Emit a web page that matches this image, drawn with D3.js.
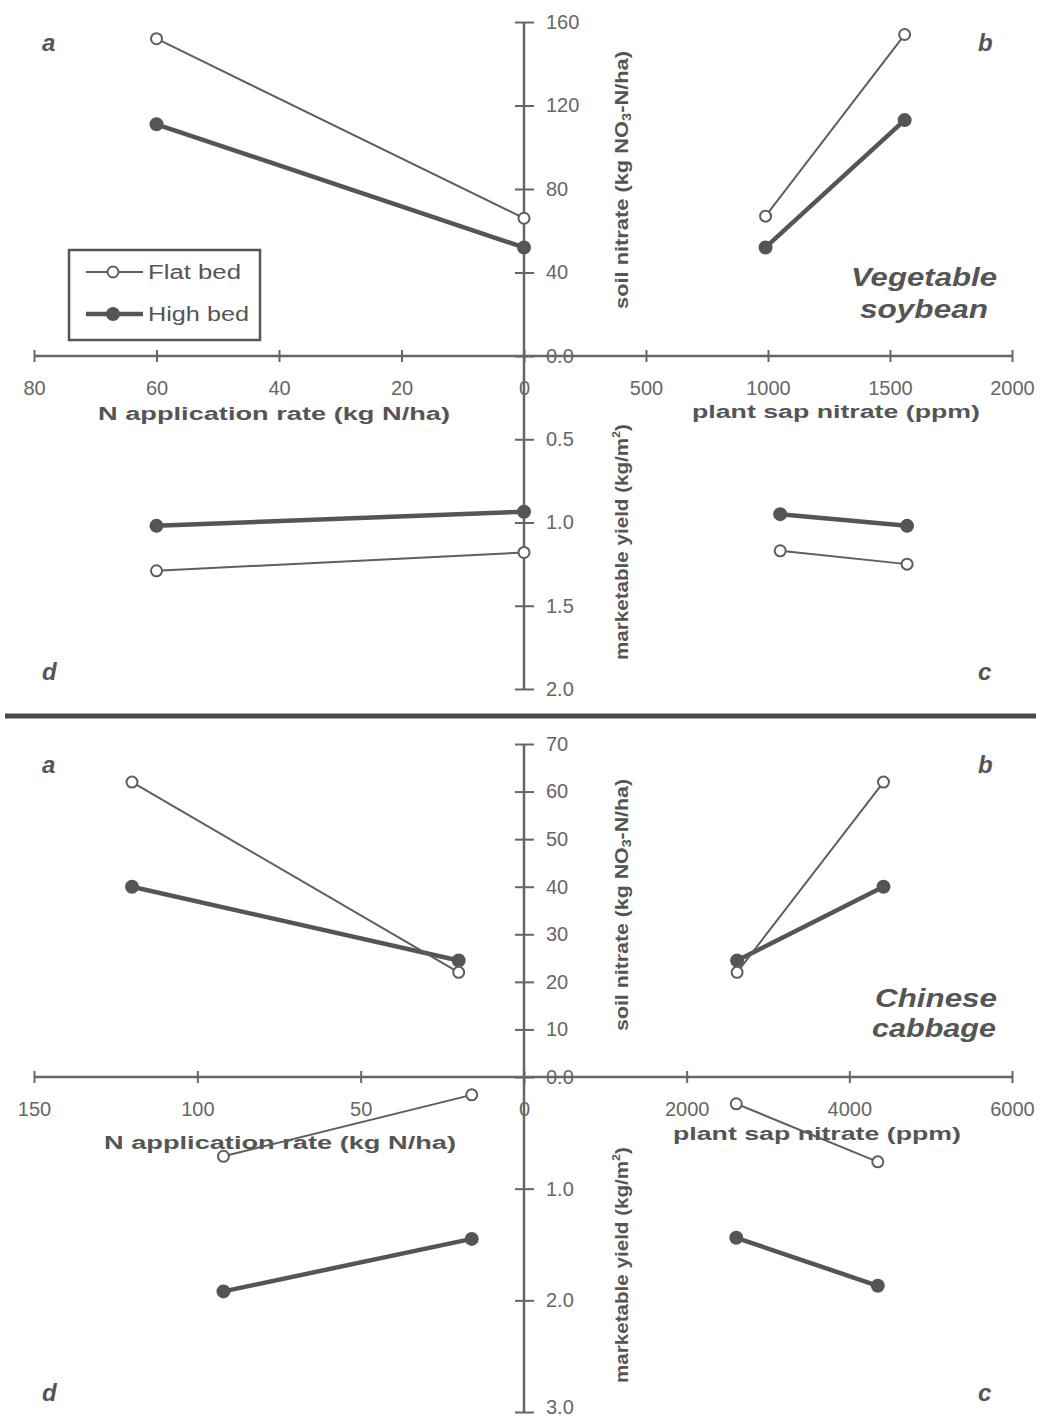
<!DOCTYPE html>
<html><head><meta charset="utf-8">
<script src="https://cdn.jsdelivr.net/npm/d3@7"></script>
<style>body{margin:0;background:#fff}svg{display:block}</style>
</head><body>
<script>
// ---------------- DATA ----------------
// Vegetable soybean (top)
const soyRateTicks = [80, 60, 40, 20, 0];
const soySapTicks = [500, 1000, 1500, 2000];
const soySoilTicks = [0, 40, 80, 120, 160];
const soyYieldTicks = [0.5, 1.0, 1.5, 2.0];
const soyA_rate = [60, 0];      const soyA_flat = [152, 66];     const soyA_high = [111, 52];
const soyB_sap = [990, 1560];   const soyB_flat = [67, 154];     const soyB_high = [52, 113];
const soyD_rate = [60, 0];      const soyD_flat = [1.29, 1.18];  const soyD_high = [1.02, 0.935];
const soyC_sap = [1050, 1570];  const soyC_flat = [1.17, 1.25];  const soyC_high = [0.95, 1.02];
// Chinese cabbage (bottom)
const cabRateTicks = [150, 100, 50, 0];
const cabSapTicks = [2000, 4000, 6000];
const cabSoilTicks = [0, 10, 20, 30, 40, 50, 60, 70];
const cabYieldTicks = [1.0, 2.0, 3.0];
const cabA_rate = [120, 20];    const cabA_flat = [62, 22];      const cabA_high = [40, 24.5];
const cabB_sap = [2620, 4420];  const cabB_flat = [22, 62];      const cabB_high = [24.5, 40];
const cabD_rate = [92, 16];     const cabD_flat = [0.71, 0.16];  const cabD_high = [1.92, 1.45];
const cabC_sap = [2610, 4350];  const cabC_flat = [0.24, 0.76];  const cabC_high = [1.44, 1.87];
const seriesNames = ["Flat bed", "High bed"];

// ---------------- DRAW ----------------
const W = 1043, H = 1419;
const F = "'Liberation Sans', Arial, Helvetica, sans-serif";
const LINE = "#555", THIN = "#5e5e5e", TXT = "#666", AX = "#666";
const svg = d3.select("body").append("svg").attr("width", W).attr("height", H)
  .style("font-family", F);
svg.append("rect").attr("width", W).attr("height", H).attr("fill", "#fff");

const X0 = 524, XL = 34, XR = 1012;

function txt(g, x, y, s, o) {
  const t = g.append("text").attr("x", x).attr("y", y).text(s)
    .attr("font-family", F).attr("fill", o.fill || "#555")
    .attr("font-size", o.size).attr("font-weight", o.weight || "normal")
    .attr("font-style", o.style || "normal")
    .attr("text-anchor", o.anchor || "middle");
  if (o.len) t.attr("textLength", o.len).attr("lengthAdjust", "spacingAndGlyphs");
  return t;
}

function panel(o) {
  const xL = d3.scaleLinear().domain([o.rateMax, 0]).range([XL, X0]);
  const xR = d3.scaleLinear().domain([0, o.sapMax]).range([X0, XR]);
  const yS = d3.scaleLinear().domain([0, o.soilMax]).range([o.axisY, o.soilTop]);
  const yY = d3.scaleLinear().domain([0, o.yieldMax]).range([o.axisY, o.yieldBot]);
  const g = svg.append("g");

  // axis titles
  txt(g, o.rateTitle[0], o.rateTitle[1], "N application rate (kg N/ha)", {size: 18, weight: "bold", len: 352});
  txt(g, o.sapTitle[0], o.sapTitle[1], "plant sap nitrate (ppm)", {size: 18, weight: "bold", len: 288});
  // vertical titles
  const t1 = g.append("text").attr("transform", `translate(${o.vtx},${o.soilTitleY}) rotate(-90)`)
    .attr("text-anchor", "middle").attr("dominant-baseline", "central")
    .attr("font-size", 18).attr("font-weight", "bold").attr("fill", "#555")
    .attr("textLength", o.soilTitleLen).attr("lengthAdjust", "spacingAndGlyphs");
  t1.append("tspan").text("soil nitrate (kg NO");
  t1.append("tspan").text("3").attr("font-size", 12).attr("dy", 5);
  t1.append("tspan").text("-N/ha)").attr("dy", -5);
  const t2 = g.append("text").attr("transform", `translate(${o.vtx},${o.yieldTitleY}) rotate(-90)`)
    .attr("text-anchor", "middle").attr("dominant-baseline", "central")
    .attr("font-size", 18).attr("font-weight", "bold").attr("fill", "#555")
    .attr("textLength", 236).attr("lengthAdjust", "spacingAndGlyphs");
  t2.append("tspan").text("marketable yield (kg/m");
  t2.append("tspan").text("2").attr("font-size", 11).attr("dy", -6);
  t2.append("tspan").text(")").attr("dy", 6);

  // horizontal axes
  const styleX = a => {
    a.attr("font-family", F).attr("font-size", 20);
    a.select(".domain").remove();
    a.selectAll(".tick line").attr("y1", -6).attr("y2", 6).attr("stroke", AX).attr("stroke-width", 2);
    a.selectAll(".tick text").attr("y", 25).attr("dy", "0.71em").attr("fill", TXT);
  };
  g.append("g").attr("transform", `translate(0,${o.axisY})`)
    .call(d3.axisBottom(xL).tickValues(o.rateTicks).tickFormat(d3.format("d"))).call(styleX);
  g.append("g").attr("transform", `translate(0,${o.axisY})`)
    .call(d3.axisBottom(xR).tickValues(o.sapTicks).tickFormat(d3.format("d"))).call(styleX);

  // vertical axes
  const styleY = a => {
    a.attr("font-family", F).attr("font-size", 20);
    a.select(".domain").remove();
    a.selectAll(".tick line").attr("x1", -9).attr("x2", 10).attr("stroke", AX).attr("stroke-width", 2);
    a.selectAll(".tick text").attr("x", 22).attr("fill", TXT);
  };
  g.append("g").attr("transform", `translate(${X0},0)`)
    .call(d3.axisRight(yS).tickValues(o.soilTicks).tickFormat(d => d === 0 ? "0.0" : d3.format("d")(d))).call(styleY);
  const ay = g.append("g").attr("transform", `translate(${X0},0)`)
    .call(d3.axisRight(yY).tickValues(o.yieldTicks).tickFormat(d3.format(".1f"))).call(styleY);
  // keep the last label inside the page
  ay.selectAll(".tick text").filter(d => yY(d) + 8 > H).attr("dy", "0.05em");

  g.append("line").attr("x1", X0).attr("x2", X0).attr("y1", o.soilTop).attr("y2", o.yieldBot)
    .attr("stroke", AX).attr("stroke-width", 2.5);
  g.append("line").attr("x1", XL).attr("x2", XR).attr("y1", o.axisY).attr("y2", o.axisY)
    .attr("stroke", AX).attr("stroke-width", 2.5);

  // series
  const sets = [
    [o.A[0], o.A[1], o.A[2], xL, yS],
    [o.B[0], o.B[1], o.B[2], xR, yS],
    [o.D[0], o.D[1], o.D[2], xL, yY],
    [o.C[0], o.C[1], o.C[2], xR, yY]
  ];
  sets.forEach(([xs, flat, high, xs_, ys_]) => {
    [[high, true], [flat, false]].forEach(([vals, filled]) => {
      const pts = d3.zip(xs, vals);
      g.append("path").attr("d", d3.line().x(d => xs_(d[0])).y(d => ys_(d[1]))(pts))
        .attr("fill", "none").attr("stroke", filled ? LINE : THIN)
        .attr("stroke-width", filled ? 4.5 : 2);
      g.selectAll(null).data(pts).enter().append("circle")
        .attr("cx", d => xs_(d[0])).attr("cy", d => ys_(d[1]))
        .attr("r", filled ? 6 : 5.5)
        .attr("fill", filled ? LINE : "#fff")
        .attr("stroke", filled ? LINE : THIN).attr("stroke-width", 2);
    });
  });

  // panel letters
  const L = {size: 24, weight: "bold", style: "italic", anchor: "start", fill: "#555"};
  txt(g, 42, o.topLetterY, "a", L);
  txt(g, 978, o.topLetterY, "b", L);
  txt(g, 42, o.botLetterY, "d", L);
  txt(g, 978, o.botLetterY, "c", L);
  // species label
  const S = {size: 26, weight: "bold", style: "italic", fill: "#555"};
  txt(g, o.sp1[0], o.sp1[1], o.sp1[2], Object.assign({len: o.sp1[3]}, S));
  txt(g, o.sp2[0], o.sp2[1], o.sp2[2], Object.assign({len: o.sp2[3]}, S));
  return {xL, yS};
}

panel({
  axisY: 356, soilTop: 22, yieldBot: 689,
  rateMax: 80, sapMax: 2000, soilMax: 160, yieldMax: 2,
  rateTicks: soyRateTicks, sapTicks: soySapTicks, soilTicks: soySoilTicks, yieldTicks: soyYieldTicks,
  A: [soyA_rate, soyA_flat, soyA_high], B: [soyB_sap, soyB_flat, soyB_high],
  D: [soyD_rate, soyD_flat, soyD_high], C: [soyC_sap, soyC_flat, soyC_high],
  rateTitle: [274, 420], sapTitle: [836, 418],
  vtx: 622, soilTitleY: 180, soilTitleLen: 258, yieldTitleY: 542,
  topLetterY: 51, botLetterY: 680,
  sp1: [924, 286, "Vegetable", 146], sp2: [924, 318, "soybean", 128]
});

panel({
  axisY: 1077, soilTop: 744, yieldBot: 1412,
  rateMax: 150, sapMax: 6000, soilMax: 70, yieldMax: 3,
  rateTicks: cabRateTicks, sapTicks: cabSapTicks, soilTicks: cabSoilTicks, yieldTicks: cabYieldTicks,
  A: [cabA_rate, cabA_flat, cabA_high], B: [cabB_sap, cabB_flat, cabB_high],
  D: [cabD_rate, cabD_flat, cabD_high], C: [cabC_sap, cabC_flat, cabC_high],
  rateTitle: [280, 1149], sapTitle: [817, 1140],
  vtx: 622, soilTitleY: 905, soilTitleLen: 252, yieldTitleY: 1265,
  topLetterY: 773, botLetterY: 1401,
  sp1: [936, 1007, "Chinese", 122], sp2: [934, 1037, "cabbage", 124]
});

// legend
const lg = svg.append("g");
lg.append("rect").attr("x", 69).attr("y", 250).attr("width", 191).attr("height", 90)
  .attr("fill", "#fff").attr("stroke", "#555").attr("stroke-width", 2.5);
seriesNames.forEach((name, i) => {
  const y = i === 0 ? 272 : 314;
  const filled = i === 1;
  lg.append("line").attr("x1", 86).attr("x2", 143).attr("y1", y).attr("y2", y)
    .attr("stroke", filled ? LINE : THIN).attr("stroke-width", filled ? 4.5 : 2);
  lg.append("circle").attr("cx", 113).attr("cy", y).attr("r", filled ? 6 : 5.5)
    .attr("fill", filled ? LINE : "#fff").attr("stroke", filled ? LINE : THIN).attr("stroke-width", 2);
  txt(lg, 148, y + 7, name, {size: 20, anchor: "start", fill: "#555", len: i === 0 ? 93 : 101});
});

// divider
svg.append("line").attr("x1", 5).attr("x2", 1036).attr("y1", 716).attr("y2", 716)
  .attr("stroke", "#4a4a4a").attr("stroke-width", 5);
</script>
</body></html>
